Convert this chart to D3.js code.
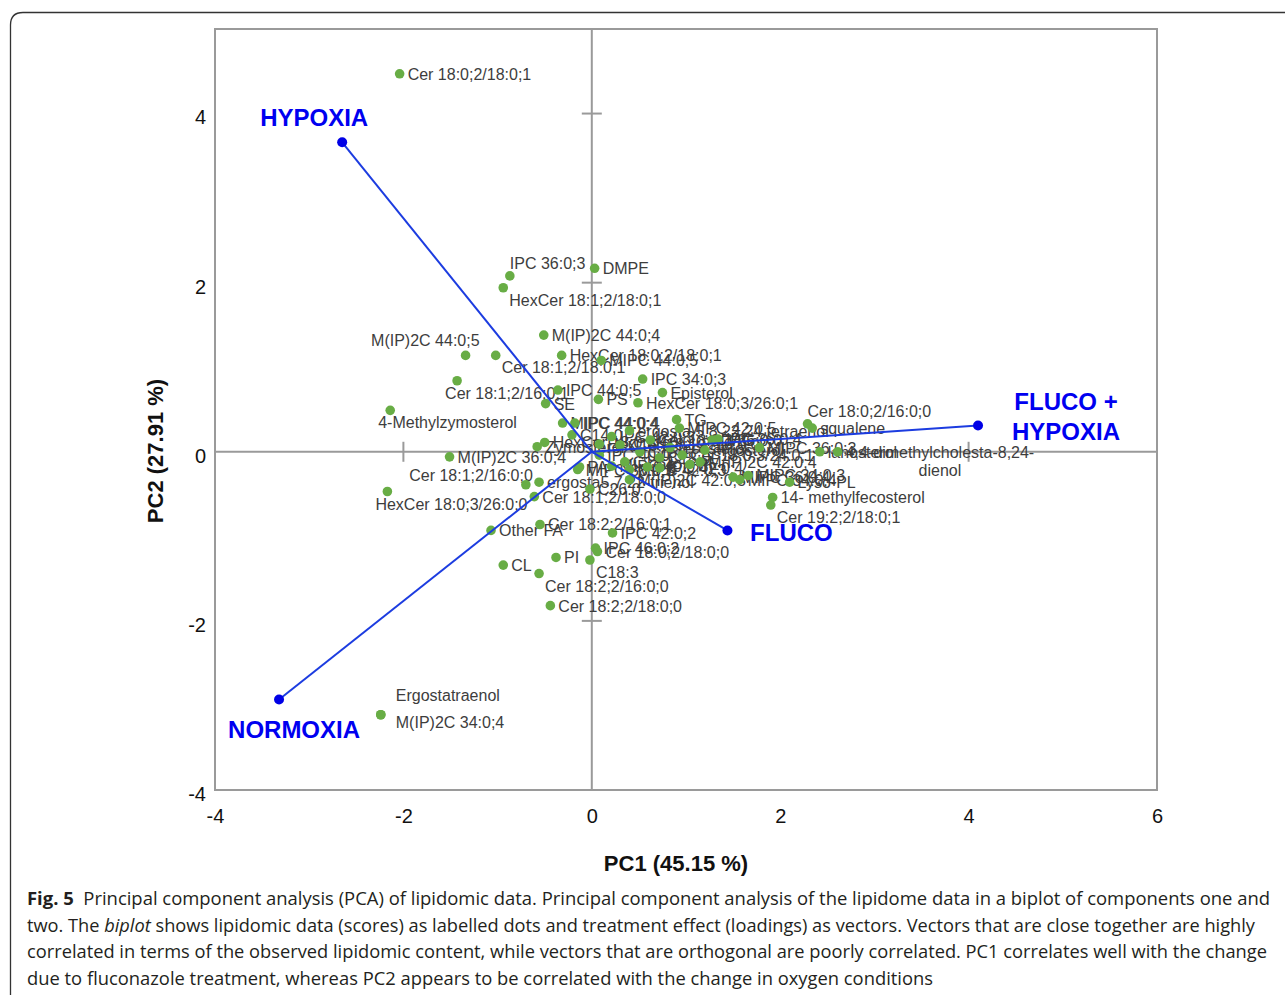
<!DOCTYPE html>
<html>
<head>
<meta charset="utf-8">
<script src="https://cdn.jsdelivr.net/npm/d3@7"></script>
<style>
  body { margin: 0; background: #fff; }
  svg { display: block; }
</style>
</head>
<body>
<script>
// axis ticks
const xTicks = [-4, -2, 0, 2, 4, 6];
const yTicks = [-4, -2, 0, 2, 4];

// treatment loadings (vectors)
const treatments = ['HYPOXIA', 'NORMOXIA', 'FLUCO', 'FLUCO + HYPOXIA'];
const loadingPC1 = [-2.65, -3.32, 1.44, 4.10];
const loadingPC2 = [3.66, -2.93, -0.93, 0.31];

// lipid scores
const lipidNames = [
  'Cer 18:0;2/18:0;1', 'IPC 36:0;3', 'HexCer 18:1;2/18:0;1', 'DMPE', 'M(IP)2C 44:0;4',
  'M(IP)2C 44:0;5', 'Cer 18:1;2/18:0;1', 'HexCer 18:0;2/18:0;1', 'MIPC 44:0;5', 'Cer 18:1;2/16:0;1',
  'IPC 34:0;3', 'IPC 44:0;5', 'Episterol', 'SE', 'PS',
  'HexCer 18:0;3/26:0;1', '4-Methylzymosterol', 'Cer 18:0;2/16:0;0', 'squalene', 'ergosta 5,8,22,24 tetraenol',
  'TG', 'MIPC 42:0;5', 'IPC 36:0;4', 'MIPC 44:0;4', 'IPC 44:0;4',
  'C14:0', 'IPC 42:0;3', 'HexCer 18:0;2/16:0;0', 'Zymosterol', 'M(IP)2C 36:0;4',
  'MIPC 36:0;3', 'lanosterol', '4,4-dimethylcholesta-8,24-|dienol', 'MIPC 36:0;4', 'MIPC 34:0;4',
  'MIPC 34:0;3', 'Lyso-PL', '14- methylfecosterol', 'Cer 19:2;2/18:0;1', 'Cer 18:1;2/16:0;0',
  'ergosta5,7,22-trienol', 'HexCer 18:0;3/26:0;0', 'Cer 18:1;2/18:0;0', 'C26:0', 'Cer 18:2;2/16:0;1',
  'Other FA', 'IPC 42:0;2', 'IPC 46:0;2', 'Cer 18:0;2/18:0;0', 'C18:3',
  'CL', 'PI', 'Cer 18:2;2/16:0;0', 'Cer 18:2;2/18:0;0', 'Ergostatraenol',
  'M(IP)2C 34:0;4', 'C16:0', 'C16:1', 'C18:0', 'C18:1',
  'PC', 'PE', 'ergosterol', 'fecosterol', 'IPC 40:0;3',
  'MIPC 40:0;3', 'MIPC 42:0;3', 'M(IP)2C 42:0;4', 'Cer 18:0;3/24:0;1', 'Cer 18:0;3/26:0;0',
  'M(IP)2C 42:0;3', 'MIPC 38:0;3', 'DAG', 'PA', 'IPC 42:0;4',
  'HexCer 18:1;2/16:0;0'
];
const lipidPC1 = [
  -2.04, -0.87, -0.94, 0.03, -0.51,
  -1.34, -1.02, -0.32, 0.10, -1.43,
  0.54, -0.36, 0.75, -0.49, 0.07,
  0.49, -2.14, 2.29, 2.34, 0.40,
  0.90, 0.93, 1.34, -0.31, -0.18,
  -0.21, 0.21, -0.50, -0.58, -1.51,
  1.78, 2.42, 2.61, 1.50, 1.57,
  1.66, 2.10, 1.92, 1.90, -0.70,
  -0.56, -2.17, -0.61, -0.02, -0.55,
  -1.07, 0.22, 0.04, 0.06, -0.02,
  -0.94, -0.38, -0.56, -0.44, -2.24,
  -2.24, 0.30, 0.51, 0.72, 0.35,
  0.59, 1.04, 1.20, 0.83, 0.08,
  0.21, 0.40, 1.15, 0.96, 0.62,
  0.40, -0.15, 1.28, -0.13, 0.72,
  0.08
];
const lipidPC2 = [
  4.47, 2.08, 1.94, 2.17, 1.38,
  1.14, 1.14, 1.14, 1.08, 0.84,
  0.86, 0.73, 0.70, 0.57, 0.62,
  0.58, 0.49, 0.33, 0.28, 0.25,
  0.38, 0.28, 0.15, 0.34, 0.34,
  0.20, 0.18, 0.11, 0.06, -0.06,
  0.05, 0.00, 0.00, -0.30, -0.33,
  -0.28, -0.36, -0.54, -0.63, -0.39,
  -0.36, -0.47, -0.53, -0.44, -0.86,
  -0.93, -0.96, -1.14, -1.18, -1.28,
  -1.34, -1.25, -1.44, -1.82, -3.11,
  -3.11, 0.08, 0.00, -0.07, -0.12,
  -0.18, -0.15, 0.02, 0.05, -0.04,
  -0.17, -0.21, -0.12, -0.04, 0.14,
  -0.33, -0.21, 0.14, -0.18, -0.19,
  0.09
];
// where each label sits relative to its dot
const labelSide = {
  'IPC 36:0;3': 'above', 'HexCer 18:1;2/18:0;1': 'below', 'M(IP)2C 44:0;5': 'aboveLeft',
  'Cer 18:1;2/18:0;1': 'below', 'Cer 18:1;2/16:0;1': 'belowLeft', '4-Methylzymosterol': 'belowLeft',
  'Cer 18:0;2/16:0;0': 'above', 'Cer 19:2;2/18:0;1': 'below', 'Cer 18:1;2/16:0;0': 'left',
  'HexCer 18:0;3/26:0;0': 'belowLeft', 'C18:3': 'below', 'Cer 18:2;2/16:0;0': 'below',
  'Ergostatraenol': 'upper', 'M(IP)2C 34:0;4': 'lower'
};

const width = 1285, height = 995;
const svg = d3.select('body').append('svg')
  .attr('width', width)
  .attr('height', height);

// outer figure frame
svg.append('path')
  .attr('d', 'M10.5,995 V25 Q10.5,12.5 23,12.5 H1285')
  .attr('fill', 'none')
  .attr('stroke', '#333')
  .attr('stroke-width', 1.3);

const x = d3.scaleLinear().domain([-4, 6]).range([215, 1157]);
const y = d3.scaleLinear().domain([-4, 5]).range([790, 29]);
const chartFont = '"Liberation Sans", Arial, Helvetica, sans-serif';

// plot box
svg.append('rect')
  .attr('x', x(-4)).attr('y', y(5))
  .attr('width', x(6) - x(-4)).attr('height', y(-4) - y(5))
  .attr('fill', 'none').attr('stroke', '#9a9a9a').attr('stroke-width', 2);

// zero lines
svg.append('line')
  .attr('x1', x(0)).attr('x2', x(0)).attr('y1', y(5)).attr('y2', y(-4))
  .attr('stroke', '#9a9a9a').attr('stroke-width', 2);
svg.append('line')
  .attr('x1', x(-4)).attr('x2', x(6)).attr('y1', y(0)).attr('y2', y(0))
  .attr('stroke', '#9a9a9a').attr('stroke-width', 2);

// small tick crosses on the zero lines
svg.selectAll('.ytick-mark')
  .data(yTicks.filter(d => d !== 0 && d !== -4))
  .enter().append('line')
  .attr('x1', x(0) - 10).attr('x2', x(0) + 10)
  .attr('y1', d => y(d)).attr('y2', d => y(d))
  .attr('stroke', '#9a9a9a').attr('stroke-width', 2);
svg.selectAll('.xtick-mark')
  .data(xTicks.filter(d => d !== 0 && d !== -4 && d !== 6))
  .enter().append('line')
  .attr('x1', d => x(d)).attr('x2', d => x(d))
  .attr('y1', y(0) - 10).attr('y2', y(0) + 10)
  .attr('stroke', '#9a9a9a').attr('stroke-width', 2);

// axes (labels only)
const yAxis = svg.append('g')
  .attr('transform', `translate(${x(-4)},4)`)
  .call(d3.axisLeft(y).tickValues(yTicks).tickSize(0).tickPadding(9).tickFormat(d => String(d)));
const xAxis = svg.append('g')
  .attr('transform', `translate(0,${y(-4) + 4})`)
  .call(d3.axisBottom(x).tickValues(xTicks).tickSize(0).tickPadding(15).tickFormat(d => String(d)));
[xAxis, yAxis].forEach(g => {
  g.select('.domain').remove();
  g.selectAll('text')
    .attr('font-family', chartFont)
    .attr('font-size', 20)
    .attr('fill', '#111');
});

// axis titles
svg.append('text')
  .attr('x', 676).attr('y', 871)
  .attr('text-anchor', 'middle')
  .attr('font-family', chartFont).attr('font-weight', 'bold').attr('font-size', 22)
  .attr('fill', '#111')
  .text('PC1 (45.15 %)');
svg.append('text')
  .attr('transform', 'translate(163,451) rotate(-90)')
  .attr('text-anchor', 'middle')
  .attr('font-family', chartFont).attr('font-weight', 'bold').attr('font-size', 22)
  .attr('fill', '#111')
  .text('PC2 (27.91 %)');

// lipid points
const lipids = lipidNames.map((name, i) => ({
  name: name, pc1: lipidPC1[i], pc2: lipidPC2[i], side: labelSide[name] || 'right'
}));

const sideOffset = {
  right: [8, 6, 'start'],
  above: [0, -7, 'start'],
  below: [6, 18, 'start'],
  belowLeft: [-12, 18, 'start'],
  aboveLeft: [14, -9, 'end'],
  left: [7, -4, 'end'],
  upper: [15, -14, 'start'],
  lower: [15, 13, 'start']
};

const labelLayer = svg.append('g')
  .attr('font-family', chartFont)
  .attr('font-size', 16)
  .attr('fill', '#3d3d3d');

lipids.forEach(d => {
  const off = sideOffset[d.side];
  const parts = d.name.split('|');
  const t = labelLayer.append('text')
    .attr('x', x(d.pc1) + off[0])
    .attr('y', y(d.pc2) + off[1])
    .attr('text-anchor', off[2])
    .text(parts[0]);
  if (parts.length > 1) {
    const w1 = t.node().getComputedTextLength();
    labelLayer.append('text')
      .attr('x', x(d.pc1) + off[0] + w1 / 2)
      .attr('y', y(d.pc2) + off[1] + 18)
      .attr('text-anchor', 'middle')
      .text(parts[1]);
  }
});

svg.append('g').selectAll('circle')
  .data(lipids)
  .enter().append('circle')
  .attr('cx', d => x(d.pc1))
  .attr('cy', d => y(d.pc2))
  .attr('r', 4.8)
  .attr('fill', '#68ad45');

// treatment vectors
const vectors = treatments.map((name, i) => ({ name: name, pc1: loadingPC1[i], pc2: loadingPC2[i] }));

svg.append('g').selectAll('line')
  .data(vectors)
  .enter().append('line')
  .attr('x1', x(0)).attr('y1', y(0))
  .attr('x2', d => x(d.pc1)).attr('y2', d => y(d.pc2))
  .attr('stroke', '#1c3ce0').attr('stroke-width', 2);

svg.append('g').selectAll('circle')
  .data(vectors)
  .enter().append('circle')
  .attr('cx', d => x(d.pc1)).attr('cy', d => y(d.pc2))
  .attr('r', 5).attr('fill', '#0000e6');

const vectorLabelPos = {
  'HYPOXIA': [[-28, -16]],
  'NORMOXIA': [[15, 38]],
  'FLUCO': [[64, 11]],
  'FLUCO + HYPOXIA': [[88, -16], [88, 14]]
};
vectors.forEach(d => {
  const lines = d.name === 'FLUCO + HYPOXIA' ? ['FLUCO +', 'HYPOXIA'] : [d.name];
  lines.forEach((line, k) => {
    const p = vectorLabelPos[d.name][k];
    svg.append('text')
      .attr('x', x(d.pc1) + p[0])
      .attr('y', y(d.pc2) + p[1])
      .attr('text-anchor', 'middle')
      .attr('font-family', chartFont).attr('font-weight', 'bold').attr('font-size', 24)
      .attr('fill', '#0000f0')
      .text(line);
  });
});

// caption
const captionFont = '"Open Sans", "Noto Sans", sans-serif';
const caption = svg.append('g')
  .attr('font-family', captionFont)
  .attr('font-size', 17.5)
  .attr('fill', '#231f20');
const captionLines = [
  [['Fig. 5', 'bold'], ['  Principal component analysis (PCA) of lipidomic data. Principal component analysis of the lipidome data in a biplot of components one and', '']],
  [['two. The ', ''], ['biplot', 'italic'], [' shows lipidomic data (scores) as labelled dots and treatment effect (loadings) as vectors. Vectors that are close together are highly', '']],
  [['correlated in terms of the observed lipidomic content, while vectors that are orthogonal are poorly correlated. PC1 correlates well with the change', '']],
  [['due to fluconazole treatment, whereas PC2 appears to be correlated with the change in oxygen conditions', '']]
];
const captionWidths = [1243, 1228, 1240, 906];
captionLines.forEach((parts, i) => {
  const t = caption.append('text')
    .attr('x', 27)
    .attr('y', 905 + i * 26.5)
    .attr('xml:space', 'preserve');
  parts.forEach(p => {
    t.append('tspan')
      .attr('font-weight', p[1] === 'bold' ? 'bold' : null)
      .attr('font-style', p[1] === 'italic' ? 'italic' : null)
      .text(p[0]);
  });
  t.attr('textLength', captionWidths[i]).attr('lengthAdjust', 'spacingAndGlyphs');
});
</script>
</body>
</html>
